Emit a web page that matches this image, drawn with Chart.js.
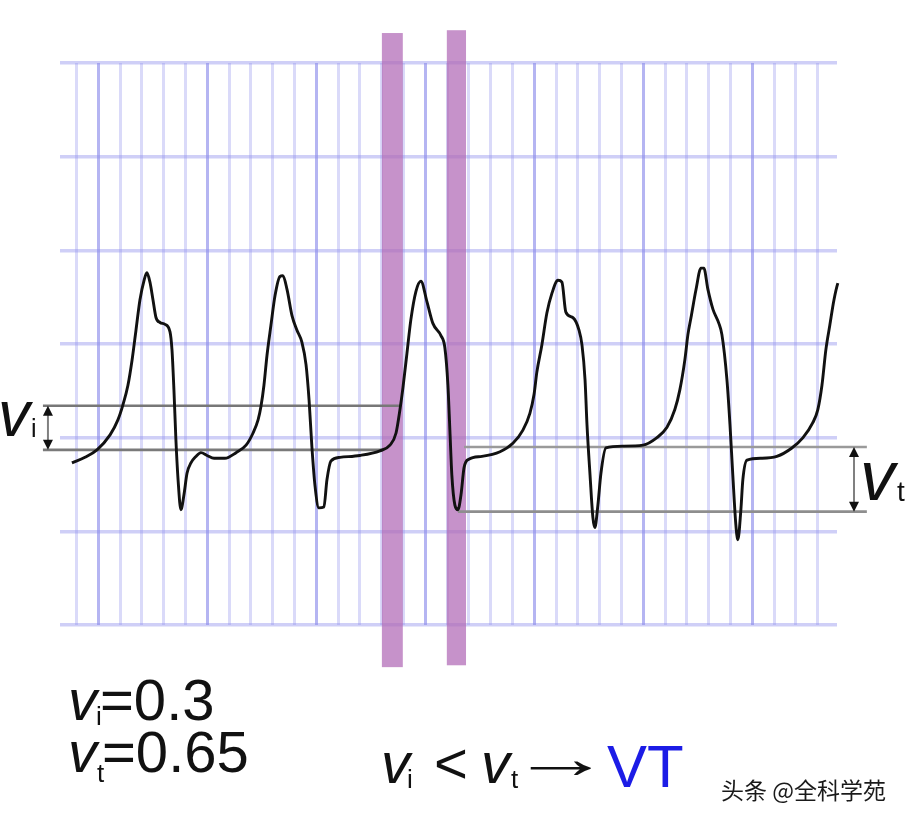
<!DOCTYPE html>
<html><head><meta charset="utf-8">
<script src="https://cdn.jsdelivr.net/npm/chart.js@4"></script>
<style>
html,body{margin:0;padding:0;background:#fff;}
#wrap{position:relative;width:910px;height:826px;overflow:hidden;background:#fff;}
#c{position:absolute;left:0;top:0;}
.t{position:absolute;white-space:nowrap;font-family:"Liberation Sans",Arial,sans-serif;line-height:1;color:#111;}
.i{font-style:italic;}
</style></head><body>
<div id="wrap"><canvas id="c" width="910" height="826"></canvas></div>
<script>
// ECG trace: time in grid boxes, amplitude in grid rows
const ecgT = [-0.21,0.39,0.94,1.54,1.90,2.13,2.36,2.55,2.73,2.91,3.10,3.23,3.37,3.51,3.65,3.83,4.06,4.29,4.38,4.47,4.56,4.66,4.79,4.93,5.07,5.25,5.48,5.71,5.99,6.31,6.81,7.32,7.78,8.10,8.33,8.46,8.60,8.74,8.92,9.11,9.33,9.47,9.66,9.89,10.11,10.34,10.53,10.67,10.80,10.94,11.12,11.35,11.49,11.67,12.09,13.00,13.92,14.38,14.66,14.84,14.98,15.16,15.34,15.57,15.80,16.08,16.35,16.72,16.90,17.04,17.13,17.22,17.36,17.50,17.64,17.78,18.00,18.60,19.43,20.02,20.48,20.80,20.99,21.12,21.35,21.58,21.81,22.09,22.27,22.45,22.78,23.05,23.19,23.33,23.42,23.56,23.69,23.78,23.92,24.06,24.29,25.07,25.99,26.63,27.09,27.45,27.68,27.91,28.05,28.19,28.42,28.65,28.78,28.97,29.20,29.47,29.61,29.84,29.98,30.11,30.25,30.34,30.48,30.57,30.76,31.44,32.13,32.82,33.33,33.78,34.01,34.20,34.38,34.56,34.75,34.93,35.11,35.25,35.39];
const ecgV = [1.73,1.79,1.87,2.03,2.19,2.35,2.56,2.83,3.15,3.47,3.68,3.76,3.66,3.47,3.28,3.23,3.21,3.13,2.94,2.51,1.98,1.55,1.23,1.39,1.62,1.73,1.80,1.84,1.81,1.78,1.78,1.84,1.92,2.05,2.19,2.33,2.56,2.88,3.20,3.52,3.72,3.73,3.58,3.30,3.15,3.02,2.78,2.40,1.90,1.49,1.25,1.26,1.55,1.75,1.79,1.81,1.86,1.92,2.05,2.30,2.54,2.90,3.26,3.56,3.67,3.45,3.22,3.09,2.96,2.56,2.08,1.60,1.28,1.23,1.39,1.68,1.77,1.80,1.85,1.94,2.08,2.26,2.46,2.70,2.99,3.33,3.54,3.68,3.66,3.34,3.28,3.15,2.99,2.62,2.14,1.60,1.15,1.04,1.28,1.62,1.89,1.91,1.92,2.00,2.11,2.30,2.51,2.83,3.10,3.28,3.58,3.81,3.81,3.58,3.37,3.22,3.10,2.62,2.14,1.60,1.07,0.91,1.23,1.55,1.76,1.78,1.80,1.89,2.00,2.16,2.30,2.56,2.94,3.20,3.47,3.65,3.73,3.65,3.62];

// grid
const gridXTicks = Array.from({length:35},(_,k)=>k);   // vertical grid lines 0..34
const gridYTicks = [0,1,2,3,4,5,6];                     // horizontal grid lines
const xRange = [-0.757, 34.89];
const yRange = [0, 6];

// measurement levels
const viLevels = [2.34, 1.87];          // v_i top / bottom
const viSpanTop = [-1.54, 14.84];
const viSpanBottom = [-1.54, 14.06];
const vtLevels = [1.90, 1.21];          // v_t top / bottom
const vtSpanTop = [17.78, 36.26];
const vtSpanBottom = [17.50, 36.26];
const arrowX = [-1.31, 35.67];          // v_i arrow, v_t arrow

// highlighted intervals (purple bands)
const bandStart = [14.01, 16.99];
const bandEnd = [14.97, 17.87];
const bandTop = [6.32, 6.35];
const bandBottom = [-0.45, -0.43];

const ecgData = ecgT.map((t,i)=>({x:t,y:ecgV[i]}));

const bandPlugin = {
  id:'bands',
  beforeDatasetsDraw(chart){
    const {ctx, scales:{x, y}} = chart;
    ctx.save();
    ctx.fillStyle = 'rgba(178,108,184,0.74)';
    for (let i=0;i<bandStart.length;i++){
      const x1 = x.getPixelForValue(bandStart[i]), x2 = x.getPixelForValue(bandEnd[i]);
      const y1 = y.getPixelForValue(bandTop[i]), y2 = y.getPixelForValue(bandBottom[i]);
      ctx.fillRect(x1, y1, x2-x1, y2-y1);
    }
    ctx.restore();
  }
};

const arrowPlugin = {
  id:'arrows',
  afterDatasetsDraw(chart){
    const {ctx, scales:{x, y}} = chart;
    const pairs = [[arrowX[0], viLevels[0], viLevels[1]], [arrowX[1], vtLevels[0], vtLevels[1]]];
    ctx.save();
    pairs.forEach(([ax, top, bot])=>{
      const px = x.getPixelForValue(ax);
      const pt = y.getPixelForValue(top), pb = y.getPixelForValue(bot);
      ctx.strokeStyle = '#808080'; ctx.lineWidth = 2;
      ctx.beginPath(); ctx.moveTo(px, pt+6); ctx.lineTo(px, pb-6); ctx.stroke();
      ctx.fillStyle = '#111';
      ctx.beginPath(); ctx.moveTo(px, pt); ctx.lineTo(px-5, pt+10); ctx.lineTo(px+5, pt+10); ctx.closePath(); ctx.fill();
      ctx.beginPath(); ctx.moveTo(px, pb); ctx.lineTo(px-5, pb-10); ctx.lineTo(px+5, pb-10); ctx.closePath(); ctx.fill();
    });
    ctx.restore();
  }
};

function seg(span, level, color){
  return {data:[{x:span[0],y:level},{x:span[1],y:level}], borderColor:color, borderWidth:2.6,
          pointRadius:0, clip:false, tension:0};
}

new Chart(document.getElementById('c'), {
  type:'line',
  data:{datasets:[
    {data:ecgData, borderColor:'#111', borderWidth:2.9, pointRadius:0, cubicInterpolationMode:'monotone', clip:false},
    seg(viSpanTop, viLevels[0], '#777'),
    seg(viSpanBottom, viLevels[1], '#7a7a7a'),
    seg(vtSpanTop, vtLevels[0], '#9a9a9a'),
    seg(vtSpanBottom, vtLevels[1], '#8e8e8e')
  ]},
  options:{
    responsive:false, devicePixelRatio:1, animation:false,
    layout:{padding:{left:60, right:73, top:63, bottom:201}},
    plugins:{legend:{display:false}, tooltip:{enabled:false}},
    scales:{
      x:{type:'linear', min:xRange[0], max:xRange[1],
         afterBuildTicks:(s)=>{ s.ticks = gridXTicks.map(v=>({value:v})); },
         border:{display:false},
         ticks:{display:false},
         grid:{drawTicks:false,
           color:(c)=> (c.tick && c.tick.value%5===1) ? 'rgba(120,120,232,0.55)' : 'rgba(140,140,236,0.32)',
           lineWidth:3}},
      y:{type:'linear', min:yRange[0], max:yRange[1],
         afterBuildTicks:(s)=>{ s.ticks = gridYTicks.map(v=>({value:v})); },
         border:{display:false},
         ticks:{display:false},
         grid:{drawTicks:false, color:'rgba(140,140,236,0.42)', lineWidth:3.5}}
    }
  },
  plugins:[bandPlugin, arrowPlugin]
});

// text labels
const wrap = document.getElementById('wrap');
function put(html, x, base, size, extra){
  const d = document.createElement('div');
  d.className = 't';
  d.innerHTML = html;
  d.style.left = x + 'px';
  d.style.top = (base - 0.8465*size) + 'px';
  d.style.fontSize = size + 'px';
  if (extra) Object.assign(d.style, extra);
  wrap.appendChild(d);
}
// side labels
put('<span class="i">v</span>', -2, 436, 64);
put('i', 31, 437, 25);
put('<span class="i">v</span>', 860, 500, 70);
put('t', 897, 502, 28);
// bottom values
put('<span class="i">v</span>', 68, 720, 58);
put('i', 96, 725, 26);
put('=0.3', 100, 720, 58);
put('<span class="i">v</span>', 68, 772, 58);
put('t', 97, 782, 26);
put('=0.65', 102, 772, 58);
// condition
put('<span class="i">v</span>', 381, 783, 58);
put('i', 407, 788, 26);
put('&lt;', 434, 783, 58);
put('<span class="i">v</span>', 481, 783, 58);
put('t', 511, 788, 26);
put('\u2192', 510, 778, 58, {transform:'scaleX(1.75)', transformOrigin:'0 50%'});
put('VT', 607, 788, 60, {color:'#1c1ce6'});
// watermark
const wm = document.createElement('div');
wm.className = 't';
wm.textContent = '头条 @全科学苑';
Object.assign(wm.style, {left:'721px', top:(800-0.936*23)+'px', fontSize:'23px',
  fontFamily:'"Noto Sans CJK SC","Noto Sans",sans-serif', color:'#1a1a1a',
  textShadow:'0 0 2px #fff, 0 0 2px #fff'});
wrap.appendChild(wm);
</script>
</body></html>
